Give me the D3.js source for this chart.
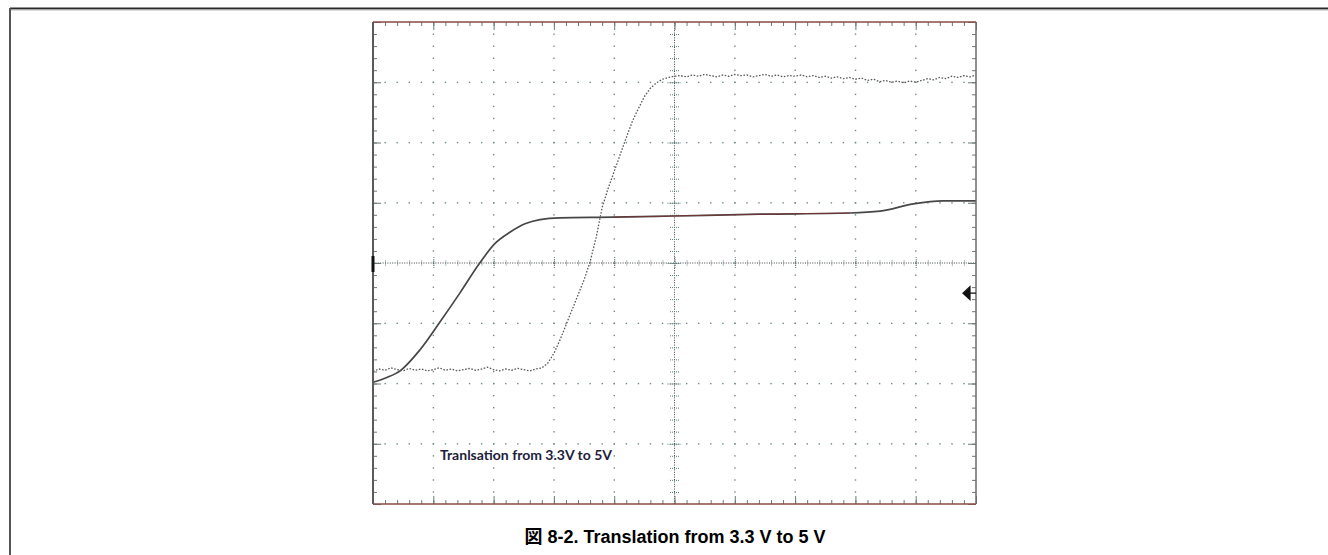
<!DOCTYPE html>
<html><head><meta charset="utf-8">
<script src="https://cdn.jsdelivr.net/npm/d3@7"></script>
<style>html,body{margin:0;padding:0;background:#fff;}svg{display:block;}</style>
</head><body>
<svg id="c" width="1328" height="555"></svg>
<script>
// ---- data (oscilloscope divisions: time 0..10, volts-div -4..4) ----
const risingTime = [0,0.1,0.2,0.3,0.4,0.5,0.6,0.7,0.8,0.9,1.0,1.1,1.2,1.3,1.4,1.5,1.6,1.7,1.8,1.9,2.0,2.1,2.2,2.3,2.4,2.5,2.6,2.7,2.8,
  2.9,3.0,3.1,3.2,3.3,3.4,3.5,3.6,3.7,3.8,3.9,4.0,4.1,4.2,4.3,4.4,4.5,4.6,4.7,4.8,4.9,5.0,
  5.1,5.2,5.3,5.4,5.5,5.6,5.7,5.8,5.9,6.0,6.1,6.2,6.3,6.4,6.5,6.6,6.7,6.8,6.9,7.0,7.1,7.2,7.3,7.4,7.5,7.6,7.7,7.8,7.9,8.0,
  8.1,8.2,8.3,8.4,8.5,8.6,8.7,8.8,8.9,9.0,9.1,9.2,9.3,9.4,9.5,9.6,9.7,9.8,9.9,10.0];
const output5V = [-1.80,-1.76,-1.78,-1.74,-1.77,-1.79,-1.75,-1.78,-1.76,-1.79,-1.77,-1.74,-1.78,-1.76,-1.79,-1.77,-1.75,-1.78,-1.76,-1.73,-1.77,-1.79,-1.76,-1.78,-1.75,-1.77,-1.79,-1.76,-1.74,
  -1.66,-1.50,-1.28,-1.03,-0.78,-0.53,-0.28,0.02,0.42,0.92,1.24,1.52,1.80,2.08,2.35,2.56,2.76,2.90,2.99,3.05,3.08,3.10,
  3.11,3.09,3.12,3.10,3.13,3.11,3.09,3.12,3.10,3.13,3.11,3.12,3.09,3.11,3.13,3.10,3.12,3.09,3.11,3.10,3.12,3.09,3.11,3.08,3.10,3.07,3.09,3.06,3.08,3.05,
  3.07,3.03,3.05,3.01,3.03,3.00,3.02,2.99,3.02,3.00,3.03,3.06,3.04,3.08,3.06,3.10,3.08,3.11,3.09,3.12];
const inputTime = [0,0.23,0.45,0.78,1.11,1.44,1.77,2.02,2.27,2.52,2.77,3.10,3.98,4.98,6.42,7.91,8.41,8.96,9.45,10.0];
const input33V  = [-1.98,-1.90,-1.79,-1.44,-0.98,-0.50,0.00,0.32,0.51,0.65,0.72,0.75,0.76,0.78,0.81,0.83,0.86,0.98,1.03,1.03];
const xDivisions = [0,1,2,3,4,5,6,7,8,9,10];
const yDivisions = [-4,-3,-2,-1,0,1,2,3,4];
const annotation = "Tranlsation from 3.3V to 5V";
const caption = "図 8-2. Translation from 3.3 V to 5 V";

const svg = d3.select("#c");
// outer page frame
svg.append("line").attr("x1",10).attr("x2",1328).attr("y1",8.5).attr("y2",8.5).attr("stroke","#2a2a2a").attr("stroke-width",2);
svg.append("line").attr("x1",11).attr("x2",1328).attr("y1",10).attr("y2",10).attr("stroke","#b5b5b5").attr("stroke-width",1);
svg.append("line").attr("x1",10).attr("x2",10).attr("y1",8).attr("y2",555).attr("stroke","#555").attr("stroke-width",2);

const x = d3.scaleLinear().domain([0,10]).range([373,976]);
const y = d3.scaleLinear().domain([-4,4]).range([504,22]);
const minorX = d3.range(0,10.0001,0.2), minorY = d3.range(-4,4.0001,0.2);
const gridCol = "#6f8a8a";

const g = svg.append("g");
// grid dots on division lines
xDivisions.filter(d=>d>0&&d<10&&d!==5).forEach(d=>{
  g.selectAll(null).data(minorY.filter(v=>v>-4&&v<4)).enter().append("rect")
   .attr("x",x(d)-0.6).attr("y",v=>y(v)-0.6).attr("width",1.4).attr("height",1.4).attr("fill",gridCol);
});
yDivisions.filter(d=>d>-4&&d<4&&d!==0).forEach(d=>{
  g.selectAll(null).data(minorX.filter(v=>v>0&&v<10)).enter().append("rect")
   .attr("x",v=>x(v)-0.6).attr("y",y(d)-0.6).attr("width",1.4).attr("height",1.4).attr("fill",gridCol);
});
// center axes: dense dotted lines
g.append("line").attr("x1",x(0)).attr("x2",x(10)).attr("y1",y(0)).attr("y2",y(0))
 .attr("stroke","#444").attr("stroke-width",1).attr("stroke-dasharray","1,1.4");
g.append("line").attr("x1",x(5)).attr("x2",x(5)).attr("y1",y(-4)).attr("y2",y(4))
 .attr("stroke","#444").attr("stroke-width",1).attr("stroke-dasharray","1,1.4");
function tickAxis(axis, transform){
  const a = g.append("g").attr("transform",transform).call(axis);
  a.select(".domain").remove();
  a.selectAll("text").remove();
  a.selectAll("line").attr("stroke","#5f7a7a").attr("stroke-width",1).attr("stroke-dasharray","1,1");
  return a;
}
tickAxis(d3.axisBottom(x).tickValues(minorX.filter(v=>v>0&&v<10)).tickSize(5).tickFormat(""), `translate(0,${y(0)-2.5})`);
tickAxis(d3.axisRight(y).tickValues(minorY.filter(v=>v>-4&&v<4)).tickSize(9).tickFormat(""), `translate(${x(5)-4.5},0)`);
tickAxis(d3.axisBottom(x).tickValues(xDivisions.filter(v=>v>0&&v<10)).tickSize(12).tickFormat(""), `translate(0,${y(0)-6})`);
tickAxis(d3.axisRight(y).tickValues(yDivisions.filter(v=>v>-4&&v<4)).tickSize(14).tickFormat(""), `translate(${x(5)-7},0)`);

// edge ticks
function edge(axis, transform){
  const a = g.append("g").attr("transform",transform).call(axis);
  a.select(".domain").remove(); a.selectAll("text").remove();
  a.selectAll("line").attr("stroke","#6a7a7a").attr("stroke-width",1);
}
edge(d3.axisBottom(x).tickValues(minorX).tickSize(4).tickFormat(""), `translate(0,${y(4)})`);
edge(d3.axisTop(x).tickValues(minorX).tickSize(4).tickFormat(""), `translate(0,${y(-4)})`);
edge(d3.axisRight(y).tickValues(minorY).tickSize(4).tickFormat(""), `translate(${x(0)},0)`);
edge(d3.axisLeft(y).tickValues(minorY).tickSize(4).tickFormat(""), `translate(${x(10)},0)`);
edge(d3.axisBottom(x).tickValues(xDivisions).tickSize(8).tickFormat(""), `translate(0,${y(4)})`);
edge(d3.axisTop(x).tickValues(xDivisions).tickSize(8).tickFormat(""), `translate(0,${y(-4)})`);
edge(d3.axisRight(y).tickValues(yDivisions).tickSize(8).tickFormat(""), `translate(${x(0)},0)`);
edge(d3.axisLeft(y).tickValues(yDivisions).tickSize(8).tickFormat(""), `translate(${x(10)},0)`);

// traces
const line = d3.line().x(d=>x(d[0])).y(d=>y(d[1])).curve(d3.curveMonotoneX);
const inData = inputTime.map((t,i)=>[t,input33V[i]]);
g.append("path").attr("d",line(inData)).attr("fill","none").attr("stroke","#474747").attr("stroke-width",1.7);
g.append("path").attr("d",line(inData.filter(d=>d[0]>=3.9&&d[0]<=7.95))).attr("fill","none").attr("stroke","#8a2c2c").attr("stroke-width",1).attr("opacity",0.7);
const outData = risingTime.map((t,i)=>[t,output5V[i]]);
g.append("path").attr("d",d3.line().x(d=>x(d[0])).y(d=>y(d[1]))(outData)).attr("fill","none")
 .attr("stroke","#5a5a5a").attr("stroke-width",1.3).attr("stroke-dasharray","1.6,1.6");

// frame
g.append("line").attr("x1",x(0)).attr("x2",x(10)).attr("y1",y(4)).attr("y2",y(4)).attr("stroke","#8a4a44").attr("stroke-width",1.6);
g.append("line").attr("x1",x(0)).attr("x2",x(10)).attr("y1",y(-4)).attr("y2",y(-4)).attr("stroke","#8a4a44").attr("stroke-width",1.6);
g.append("line").attr("x1",x(0)).attr("x2",x(0)).attr("y1",y(4)).attr("y2",y(-4)).attr("stroke","#5a5a5a").attr("stroke-width",2);
g.append("line").attr("x1",x(10)).attr("x2",x(10)).attr("y1",y(4)).attr("y2",y(-4)).attr("stroke","#6a6a6a").attr("stroke-width",1.5);

// markers
g.append("rect").attr("x",x(0)-1.5).attr("y",y(0)-7).attr("width",3).attr("height",16).attr("fill","#111");
const ay = y(-0.5);
g.append("path").attr("d",`M${x(10)-13},${ay} L${x(10)-6},${ay-6.5} L${x(10)-6},${ay+6.5} Z M${x(10)-6},${ay} L${x(10)},${ay}`)
 .attr("fill","#111").attr("stroke","#111").attr("stroke-width",1.2);

// annotation
svg.append("text").attr("x",440).attr("y",460).text(annotation)
 .attr("font-family","Lato, 'Open Sans', sans-serif").attr("font-weight","bold").attr("font-size",13.5).attr("fill","#1e1e3c")
 .attr("textLength",172).attr("lengthAdjust","spacingAndGlyphs");

// caption
svg.append("text").attr("x",675).attr("y",543).attr("text-anchor","middle").text(caption)
 .attr("font-family","'Liberation Sans', Arial, 'Noto Sans CJK JP', sans-serif").attr("font-weight","bold").attr("font-size",18).attr("fill","#000");
</script>
</body></html>
